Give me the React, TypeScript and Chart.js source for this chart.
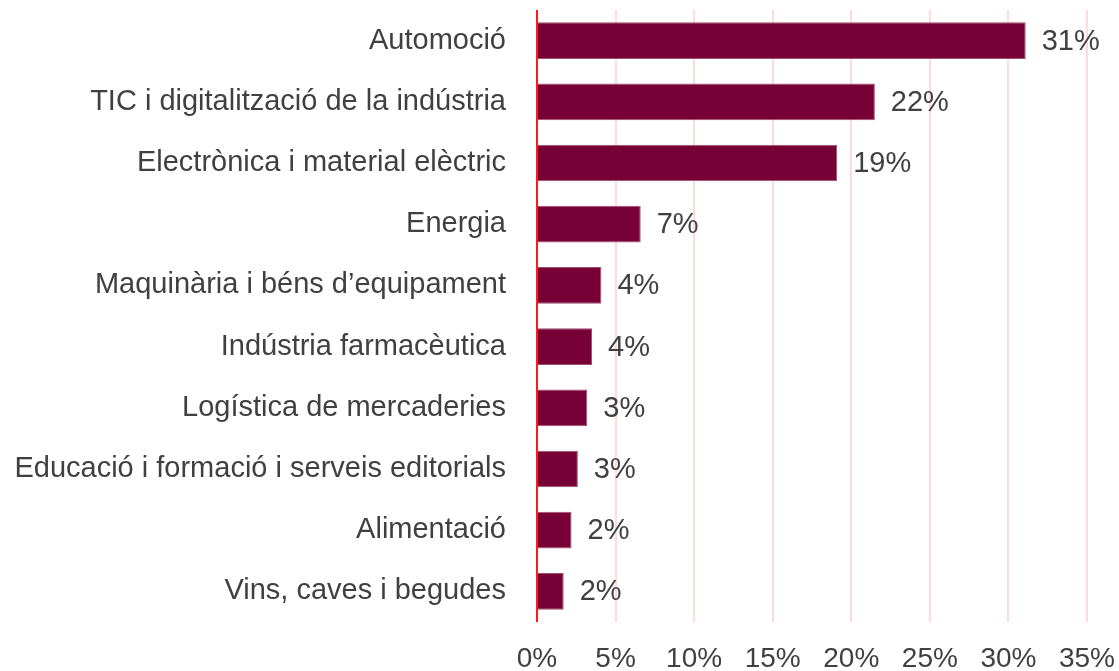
import React, { useEffect, useRef } from "react";
import { Chart, registerables } from "chart.js";

Chart.register(...registerables);

const categories = [
  "Automoció",
  "TIC i digitalització de la indústria",
  "Electrònica i material elèctric",
  "Energia",
  "Maquinària i béns d’equipament",
  "Indústria farmacèutica",
  "Logística de mercaderies",
  "Educació i formació i serveis editorials",
  "Alimentació",
  "Vins, caves i begudes",
];
const shares = [31.1, 21.5, 19.1, 6.6, 4.1, 3.5, 3.2, 2.6, 2.2, 1.7];
const shareLabels = ["31%", "22%", "19%", "7%", "4%", "4%", "3%", "3%", "2%", "2%"];
const xTicks = [0, 5, 10, 15, 20, 25, 30, 35];

const FONT = "'Liberation Sans', Arial, Helvetica, sans-serif";
const TEXT = "#404040";

const valueLabelPlugin = {
  id: "valueLabels",
  afterDatasetsDraw(chart: any) {
    const meta = chart.getDatasetMeta(0);
    const ctx = chart.ctx;
    ctx.save();
    ctx.font = `29px ${FONT}`;
    ctx.fillStyle = TEXT;
    ctx.textAlign = "left";
    ctx.textBaseline = "middle";
    meta.data.forEach((bar: any, i: number) => {
      ctx.fillText(shareLabels[i], bar.x + 16, bar.y + 1);
    });
    ctx.restore();
  },
};

export default function App() {
  const ref = useRef<HTMLCanvasElement>(null);
  useEffect(() => {
    if (!ref.current) return;
    const chart = new Chart(ref.current, {
      type: "bar",
      data: {
        labels: categories,
        datasets: [
          {
            data: shares,
            backgroundColor: "#770036",
            borderColor: "#a0506f",
            borderWidth: 1,
            categoryPercentage: 0.6,
            barPercentage: 1,
          },
        ],
      },
      options: {
        indexAxis: "y",
        animation: false,
        responsive: false,
        maintainAspectRatio: false,
        layout: { padding: { top: 10, right: 0, bottom: 0, left: 0 } },
        plugins: { legend: { display: false }, tooltip: { enabled: false } },
        scales: {
          x: {
            min: 0,
            max: 35,
            afterBuildTicks: (scale: any) => {
              scale.ticks = xTicks.map((v) => ({ value: v }));
            },
            afterFit: (scale: any) => {
              scale.height = 49;
              scale.paddingLeft = 0;
              scale.paddingRight = 32;
            },
            grid: {
              color: (c: any) => (c.index === 0 ? "#ff1a1a" : "#ffdcdc"),
              lineWidth: 2,
              drawTicks: false,
            },
            border: { display: false },
            ticks: {
              padding: 20,
              color: TEXT,
              font: { family: FONT, size: 28 },
              callback: (v: any) => `${v}%`,
              maxRotation: 0,
            },
          },
          y: {
            afterFit: (scale: any) => {
              scale.width = 537;
              scale.paddingTop = 0;
              scale.paddingBottom = 0;
            },
            grid: { display: false, drawTicks: false },
            border: { display: false },
            ticks: {
              padding: 31,
              color: TEXT,
              font: { family: FONT, size: 29 },
            },
          },
        },
      },
      plugins: [valueLabelPlugin],
    });
    return () => chart.destroy();
  }, []);
  return (
    <div style={{ position: "absolute", left: 0, top: 0, width: 1119, height: 671, background: "#fff", overflow: "hidden" }}>
      <canvas ref={ref} width={1119} height={671} style={{ width: 1119, height: 671, display: "block" }} />
    </div>
  );
}
